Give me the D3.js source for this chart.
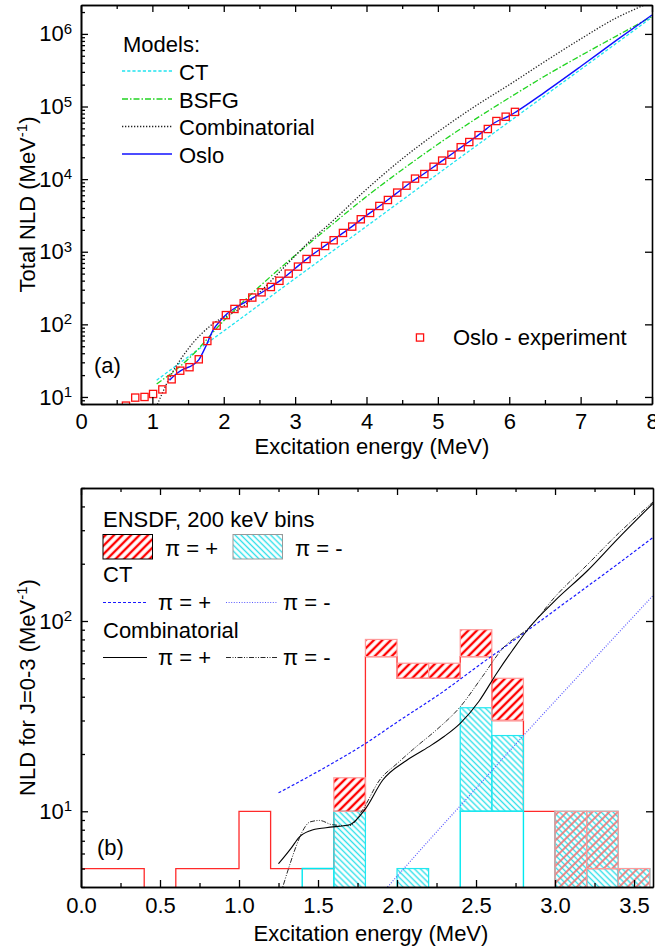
<!DOCTYPE html>
<html>
<head>
<meta charset="utf-8">
<script src="https://cdn.jsdelivr.net/npm/d3@7"></script>
<style>
  body { margin: 0; background: #fff; }
  svg { display: block; }
  text { font-family: "Liberation Sans", Arial, Helvetica, sans-serif; fill: #000; }
</style>
</head>
<body>
<svg id="chart" width="655" height="947"></svg>
<script>
// ---------------- Panel (a): total level density ----------------
// Oslo experiment points
const expE   = [0.63,0.76,0.89,1.01,1.14,1.27,1.39,1.52,1.65,1.77,1.90,2.03,2.15,2.28,2.40,2.53,2.66,2.78,2.91,3.04,3.16,3.29,3.42,3.54,3.67,3.80,3.92,4.05,4.18,4.30,4.43,4.56,4.68,4.81,4.94,5.06,5.19,5.32,5.44,5.57,5.70,5.82,5.95,6.08];
const expNLD = [7.6,9.8,10.0,11.0,12.7,17.5,23,25.7,33,59,96,134,163,195,234,276,327,398,500,624,794,993,1200,1440,1815,2220,2800,3420,4270,5160,6520,8130,10160,11750,14800,18000,21700,27500,32400,40300,49000,63100,72400,84300];

// Oslo normalised curve
const osloE   = [1.24,1.35,1.45,1.55,1.65,1.75,1.85,1.95,2.05,2.2,2.4,2.6,2.8,3.0,3.2,3.4,3.6,3.8,4.0,4.2,4.4,4.6,4.8,5.0,5.2,5.4,5.6,5.8,6.0,6.1,6.5,7.0,7.5,8.0];
const osloNLD = [17.0,21.4,24.5,26.9,32.4,50.1,83.2,112,141,178,229,302,407,589,851,1175,1622,2239,3162,4365,6166,8710,11750,16220,22390,30900,42660,60260,74130,85110,1.58e5,3.55e5,8.13e5,1.82e6];

// Constant-temperature model
const ctE   = [1.06,1.5,2,3,4,5,6,7,8];
const ctNLD = [17,35.6,81,428,2240,11800,61800,3.24e5,1.70e6];

// Back-shifted Fermi gas model
const bsfgE   = [1.06,1.5,2,2.5,3,3.5,4,4.5,5,5.5,6,6.5,7,7.5,8];
const bsfgNLD = [15.1,33,112,331,891,2290,5750,13490,30200,64570,131800,263000,501000,933000,1.74e6];

// Combinatorial model
const combE   = [1.07,1.25,1.5,1.85,2.2,2.5,2.8,3.2,3.5,4.0,4.5,5.0,5.5,6.0,6.5,7.0,7.5,7.9];
const combNLD = [7.9,19.1,45.7,102,158,275,550,1380,2510,7240,19050,44670,97700,199500,417000,851000,1.66e6,2.51e6];

// ---------------- Panel (b): J=0-3 level density by parity ----------------
const binLo   = [0.0,0.2,0.4,0.6,0.8,1.0,1.2,1.4,1.6,1.8,2.0,2.2,2.4,2.6,2.8,3.0,3.2,3.4];
const binW    = 0.2;
const posLow  = [5,5,0,5,5,10,5,5,10,65,50,50,65,30,10,0,5,0];
const posHigh = [5,5,0,5,5,10,5,5,15,80,60,60,90,50,10,10,10,5];
const negLow  = [0,0,0,0,0,0,0,5,0,0,0,0,10,10,0,0,0,0];
const negHigh = [0,0,0,0,0,0,0,5,10,0,5,0,35,25,0,10,10,5];

const ctPosE = [1.25,1.5,1.8,2.0,2.3,2.5,2.8,3.0,3.2,3.4,3.62];
const ctPosV = [12.5,16.2,22.7,29.4,43,57,86,114,151,200,275];
const ctNegE = [1.94,2.2,2.5,2.8,3.1,3.4,3.62];
const ctNegV = [4.0,7.0,13.2,25,46.6,86.5,136];

const combPosE = [1.25,1.33,1.38,1.45,1.55,1.70,1.80,1.91,2.06,2.20,2.30,2.40,2.52,2.63,2.73,2.84,3.00,3.20,3.40,3.62];
const combPosV = [5.3,6.4,7.3,7.9,8.2,8.5,10.3,14.6,18.5,21.8,24.8,29,38,53,70,93,128,182,272,415];
const combNegE = [1.26,1.32,1.36,1.40,1.45,1.51,1.59,1.70,1.78,1.89,2.00,2.12,2.25,2.40,2.54,2.67,2.84,3.00,3.20,3.40,3.62];
const combNegV = [3.6,5.2,6.5,7.8,8.8,8.95,8.5,8.4,10.1,14.6,17.8,21.8,26.8,35.4,51,72,93,134,196,288,422];

// ---------------- Drawing ----------------
const svg = d3.select("#chart");
const FS = 22;

const xA = d3.scaleLinear().domain([0, 8]).range([81, 652]);
const yA = d3.scaleLog().domain([8, 2.5e6]).range([404, 5]);
const xB = d3.scaleLinear().domain([0, 3.62]).range([81, 653]);
const yB = d3.scaleLog().domain([4, 500]).range([887, 488]);

const defs = svg.append("defs");
function clip(id, x, y) {
  defs.append("clipPath").attr("id", id).append("rect")
    .attr("x", x.range()[0]).attr("y", y.range()[1])
    .attr("width", x.range()[1] - x.range()[0])
    .attr("height", y.range()[0] - y.range()[1]);
}
clip("clipA", xA, yA);
clip("clipB", xB, yB);

// hatch patterns
function hatch(id, angle, gap, color, width, opacity) {
  const p = defs.append("pattern").attr("id", id)
    .attr("patternUnits", "userSpaceOnUse")
    .attr("width", gap).attr("height", gap)
    .attr("patternTransform", `rotate(${angle})`);
  p.append("line").attr("x1", gap / 2).attr("x2", gap / 2)
    .attr("y1", -1).attr("y2", gap + 1)
    .attr("stroke", color).attr("stroke-width", width)
    .attr("stroke-opacity", opacity);
}
hatch("hatchPos", 45, 6, "#ff0000", 2.4, 1);
hatch("hatchPosSoft", 45, 6, "#f06a6a", 1.8, 0.85);
hatch("hatchNeg", -45, 4.2, "#33e0ea", 1.4, 1);

function minorLog(scale) {
  const [a, b] = scale.domain();
  const out = [];
  for (let k = Math.floor(Math.log10(a)); k <= Math.ceil(Math.log10(b)); k++)
    for (let m = 2; m <= 9; m++) {
      const v = m * Math.pow(10, k);
      if (v >= a && v <= b) out.push(v);
    }
  return out;
}
function decades(scale) {
  const [a, b] = scale.domain();
  const out = [];
  for (let k = Math.ceil(Math.log10(a)); Math.pow(10, k) <= b; k++) out.push(Math.pow(10, k));
  return out;
}

function frame(x, y, xMajor, xMinor, xFmt, xPad) {
  const g = svg.append("g");
  const bottom = y.range()[0], top = y.range()[1];
  const left = x.range()[0], right = x.range()[1];
  const style = s => s.call(q => q.selectAll("line,path").attr("stroke", "#000"))
                     .call(q => q.select(".domain").attr("stroke-width", 1.6))
                     .call(q => q.selectAll(".tick line").attr("stroke-width", 1.3))
                     .call(q => q.selectAll("text").attr("font-size", FS)
                       .attr("font-family", '"Liberation Sans", Arial, sans-serif').attr("fill", "#000"));
  // bottom
  g.append("g").attr("transform", `translate(0,${bottom})`)
    .call(d3.axisBottom(x).tickValues(xMinor).tickSize(-4).tickSizeOuter(0).tickFormat("")).call(style);
  g.append("g").attr("transform", `translate(0,${bottom})`)
    .call(d3.axisBottom(x).tickValues(xMajor).tickSize(-7).tickSizeOuter(0).tickPadding(xPad).tickFormat(xFmt)).call(style);
  // top
  g.append("g").attr("transform", `translate(0,${top})`)
    .call(d3.axisTop(x).tickValues(xMinor).tickSize(-4).tickSizeOuter(0).tickFormat("")).call(style);
  g.append("g").attr("transform", `translate(0,${top})`)
    .call(d3.axisTop(x).tickValues(xMajor).tickSize(-7).tickSizeOuter(0).tickFormat("")).call(style);
  // left
  g.append("g").attr("transform", `translate(${left},0)`)
    .call(d3.axisLeft(y).tickValues(minorLog(y)).tickSize(-4).tickSizeOuter(0).tickFormat("")).call(style);
  const yl = g.append("g").attr("transform", `translate(${left},0)`)
    .call(d3.axisLeft(y).tickValues(decades(y)).tickSize(-7).tickSizeOuter(0).tickPadding(9).tickFormat("")).call(style);
  yl.selectAll(".tick text").each(function (d) {
    const t = d3.select(this);
    t.text("10");
    t.append("tspan").attr("dy", "-0.5em").attr("font-size", 15).text(Math.round(Math.log10(d)));
  });
  // right
  g.append("g").attr("transform", `translate(${right},0)`)
    .call(d3.axisRight(y).tickValues(decades(y)).tickSize(-7).tickSizeOuter(0).tickFormat("")).call(style);
}

function ylabel(text, cx, cy) {
  const t = svg.append("text").attr("transform", `translate(${cx},${cy}) rotate(-90)`)
    .attr("text-anchor", "middle").attr("font-size", FS);
  t.append("tspan").text(text);
  t.append("tspan").attr("font-size", 15).attr("dy", -8).text("-1");
  t.append("tspan").attr("dy", 8).text(")");
}

const pts = (E, V) => E.map((e, i) => [e, V[i]]);

// ===== Panel (a) =====
const gA = svg.append("g").attr("clip-path", "url(#clipA)");
const lineA = d3.line().x(d => xA(d[0])).y(d => yA(d[1])).curve(d3.curveMonotoneX);

const styleCT   = { stroke: "#22e4f0", dash: "3.2,2", w: 1.3 };
const styleBSFG = { stroke: "#22d422", dash: "6,2,1.5,2", w: 1.3 };
const styleComb = { stroke: "#222", dash: "1.3,1.7", w: 1.3 };
const styleOslo = { stroke: "#1010ff", dash: null, w: 1.4 };

function curve(g, line, data, s) {
  g.append("path").attr("d", line(data)).attr("fill", "none")
    .attr("stroke", s.stroke).attr("stroke-width", s.w)
    .attr("stroke-dasharray", s.dash);
}
curve(gA, lineA, pts(ctE, ctNLD), styleCT);
curve(gA, lineA, pts(bsfgE, bsfgNLD), styleBSFG);
curve(gA, lineA, pts(combE, combNLD), styleComb);
curve(gA, lineA, pts(osloE, osloNLD), styleOslo);

gA.selectAll("rect.exp").data(pts(expE, expNLD)).join("rect")
  .attr("class", "exp")
  .attr("x", d => xA(d[0]) - 3.6).attr("y", d => yA(d[1]) - 3.6)
  .attr("width", 7.2).attr("height", 7.2)
  .attr("fill", "none").attr("stroke", "#ff1010").attr("stroke-width", 1.3);

frame(xA, yA, d3.range(0, 9, 1), d3.range(0.5, 8, 1), d3.format("d"), 9);

// legend (a)
svg.append("text").attr("x", 123).attr("y", 52).attr("font-size", FS).text("Models:");
[["CT", styleCT, 71], ["BSFG", styleBSFG, 99], ["Combinatorial", styleComb, 126.5], ["Oslo", styleOslo, 154]]
  .forEach(([name, s, yy]) => {
    svg.append("line").attr("x1", 122).attr("x2", 172).attr("y1", yy).attr("y2", yy)
      .attr("stroke", s.stroke).attr("stroke-width", s.w).attr("stroke-dasharray", s.dash);
    svg.append("text").attr("x", 179).attr("y", yy + 8.5).attr("font-size", FS).text(name);
  });
svg.append("rect").attr("x", 416.4).attr("y", 333.9).attr("width", 7.2).attr("height", 7.2)
  .attr("fill", "none").attr("stroke", "#ff1010").attr("stroke-width", 1.3);
svg.append("text").attr("x", 453).attr("y", 345).attr("font-size", FS).text("Oslo - experiment");
svg.append("text").attr("x", 94).attr("y", 373).attr("font-size", FS).text("(a)");

ylabel("Total NLD (MeV", 35, 204.5);
svg.append("text").attr("x", 372).attr("y", 454).attr("text-anchor", "middle")
  .attr("font-size", FS).text("Excitation energy (MeV)");

// ===== Panel (b) =====
const gB = svg.append("g").attr("clip-path", "url(#clipB)");
const yFloor = v => (v > 0 ? yB(v) : yB.range()[0] + 4);

function stepPath(vals) {
  const p = [];
  vals.forEach((v, i) => {
    p.push([xB(binLo[i]), yFloor(v)]);
    p.push([xB(binLo[i] + binW), yFloor(v)]);
  });
  return d3.line()(p);
}
// step outlines of the firm assignments
gB.append("path").attr("d", stepPath(posLow)).attr("fill", "none")
  .attr("stroke", "#ff2a2a").attr("stroke-width", 1.3);
gB.append("path").attr("d", stepPath(negLow)).attr("fill", "none")
  .attr("stroke", "#00e8f0").attr("stroke-width", 1.4);

// hatched ranges; positive-parity hatch is lighter where it overlays a negative-parity range
const negBoxes = binLo.map((e, i) => ({ e, lo: negLow[i], hi: negHigh[i] })).filter(d => d.hi > d.lo);
const posBoxes = binLo.map((e, i) => ({
    e, lo: posLow[i], hi: posHigh[i],
    both: negHigh[i] > negLow[i] && posLow[i] < negHigh[i] && posHigh[i] > negLow[i]
  })).filter(d => d.hi > d.lo);

gB.selectAll("rect.neg").data(negBoxes).join("rect").attr("class", "neg")
  .attr("x", d => xB(d.e)).attr("width", d => xB(d.e + binW) - xB(d.e))
  .attr("y", d => yB(d.hi)).attr("height", d => yFloor(d.lo) - yB(d.hi))
  .attr("fill", "url(#hatchNeg)").attr("stroke", "#20e8f0").attr("stroke-width", 1.2);
gB.selectAll("rect.pos").data(posBoxes).join("rect").attr("class", "pos")
  .attr("x", d => xB(d.e)).attr("width", d => xB(d.e + binW) - xB(d.e))
  .attr("y", d => yB(d.hi)).attr("height", d => yFloor(d.lo) - yB(d.hi))
  .attr("fill", d => d.both ? "url(#hatchPosSoft)" : "url(#hatchPos)")
  .attr("stroke", "#ff9a9a").attr("stroke-width", 1.2);

const lineB = d3.line().x(d => xB(d[0])).y(d => yB(d[1])).curve(d3.curveMonotoneX);
const sCTp = { stroke: "#1a1aff", dash: "3,2", w: 1.2 };
const sCTn = { stroke: "#5a5aff", dash: "1,1.6", w: 1.2 };
const sCp  = { stroke: "#000", dash: null, w: 1.1 };
const sCn  = { stroke: "#111", dash: "5,1.5,1,1.5,1,1.5", w: 0.9 };
curve(gB, lineB, pts(ctPosE, ctPosV), sCTp);
curve(gB, lineB, pts(ctNegE, ctNegV), sCTn);
curve(gB, lineB, pts(combPosE, combPosV), sCp);
curve(gB, lineB, pts(combNegE, combNegV), sCn);

frame(xB, yB, d3.range(0, 3.51, 0.5), d3.range(0.25, 3.62, 0.5), d3.format(".1f"), 10);

// legend (b)
svg.append("text").attr("x", 103).attr("y", 527).attr("font-size", FS).text("ENSDF, 200 keV bins");
svg.append("rect").attr("x", 103).attr("y", 534.5).attr("width", 49.5).attr("height", 24.5)
  .attr("fill", "url(#hatchPos)").attr("stroke", "#000").attr("stroke-width", 1);
svg.append("text").attr("x", 165).attr("y", 556).attr("font-size", FS).text("π = +");
svg.append("rect").attr("x", 233).attr("y", 534.5).attr("width", 49.5).attr("height", 24.5)
  .attr("fill", "url(#hatchNeg)").attr("stroke", "#999").attr("stroke-width", 1);
svg.append("text").attr("x", 295).attr("y", 556).attr("font-size", FS).text("π = -");

svg.append("text").attr("x", 103).attr("y", 582).attr("font-size", FS).text("CT");
[[sCTp, 103, 147, 158, "π = +"], [sCTn, 226, 277, 283, "π = -"]].forEach(([s, a, b, tx, lab]) => {
  svg.append("line").attr("x1", a).attr("x2", b).attr("y1", 602.5).attr("y2", 602.5)
    .attr("stroke", s.stroke).attr("stroke-width", s.w).attr("stroke-dasharray", s.dash);
  svg.append("text").attr("x", tx).attr("y", 610).attr("font-size", FS).text(lab);
});
svg.append("text").attr("x", 103).attr("y", 638).attr("font-size", FS).text("Combinatorial");
[[sCp, 103, 147, 158, "π = +"], [sCn, 226, 277, 283, "π = -"]].forEach(([s, a, b, tx, lab]) => {
  svg.append("line").attr("x1", a).attr("x2", b).attr("y1", 657.5).attr("y2", 657.5)
    .attr("stroke", s.stroke).attr("stroke-width", s.w).attr("stroke-dasharray", s.dash);
  svg.append("text").attr("x", tx).attr("y", 665).attr("font-size", FS).text(lab);
});
svg.append("text").attr("x", 97).attr("y", 855).attr("font-size", FS).text("(b)");

ylabel("NLD for J=0-3 (MeV", 35, 687.5);
svg.append("text").attr("x", 371).attr("y", 941).attr("text-anchor", "middle")
  .attr("font-size", FS).text("Excitation energy (MeV)");
</script>
</body>
</html>
